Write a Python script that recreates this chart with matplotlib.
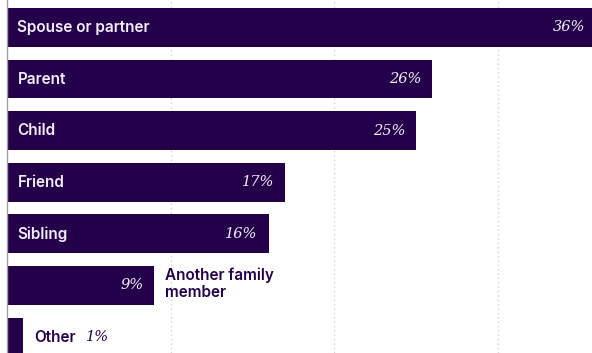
import matplotlib
matplotlib.use("Agg")
import matplotlib.pyplot as plt

categories = ["Spouse or partner", "Parent", "Child", "Friend", "Sibling",
              "Another family\nmember", "Other"]
values = [36, 26, 25, 17, 16, 9, 1]
# bars too short to hold their name get it written after the bar
outside = [False, False, False, False, False, True, True]

purple = "#25004a"
light = "#f3eefa"
sans = dict(family="Inter", fontweight="semibold", fontsize=11)
serif = dict(family="DejaVu Serif", style="italic", fontsize=10.5)

fig = plt.figure(figsize=(5.92, 3.53), dpi=100)
ax = fig.add_axes([7 / 592, 0, 1 - 7 / 592, 1])

pos = list(range(len(values)))
ax.barh(pos, values, height=0.75, color=purple, zorder=2)

for x in (10, 20, 30):
    ax.axvline(x, color="#c8c8c8", lw=0.9, ls=(0, (1, 2.5)), zorder=1)

for i, (cat, v, out) in enumerate(zip(categories, values, outside)):
    if cat == "Other":
        ax.annotate(cat, (v, i), xytext=(7.5, 0), textcoords="offset points",
                    ha="left", va="center", color=purple, **sans)
        ax.annotate(f"{v}%", (v, i), xytext=(45, 0), textcoords="offset points",
                    ha="left", va="center", color=purple, **serif)
        continue
    if out:
        ax.annotate(cat, (v, i), xytext=(7.5, 1), textcoords="offset points",
                    ha="left", va="center", color=purple, linespacing=1.2,
                    **sans)
    else:
        ax.annotate(cat, (0, i), xytext=(7.5, 0), textcoords="offset points",
                    ha="left", va="center", color=light, **sans)
    ax.annotate(f"{v}%", (v, i), xytext=(-8, 0), textcoords="offset points",
                ha="right", va="center", color=light, annotation_clip=False,
                **serif)

ax.set_xlim(0, 35.75)
ax.set_ylim(6.31, -0.533)
ax.set_xticks([])
ax.set_yticks([])
for s in ("top", "right", "bottom"):
    ax.spines[s].set_visible(False)
ax.spines["left"].set_color("#a0a0a0")
ax.spines["left"].set_linewidth(1.0)

fig.savefig("out.png", dpi=100)
